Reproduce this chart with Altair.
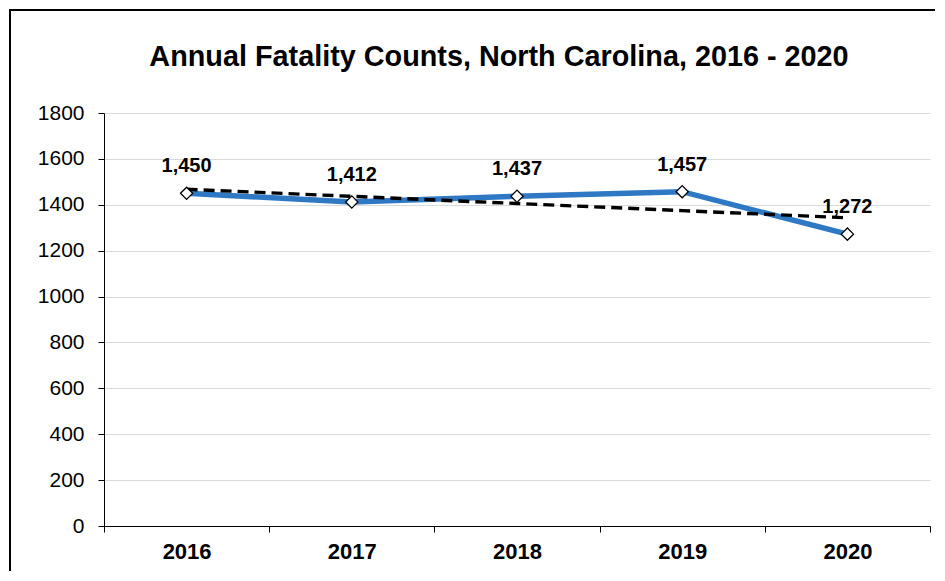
import altair as alt
import pandas as pd

years = ["2016", "2017", "2018", "2019", "2020"]
counts = [1450, 1412, 1437, 1457, 1272]
y_ticks = [0, 200, 400, 600, 800, 1000, 1200, 1400, 1600, 1800]
title_text = "Annual Fatality Counts, North Carolina, 2016 - 2020"

df = pd.DataFrame({"year": years, "count": counts})
single = pd.DataFrame({"t": [title_text]})

FONT = "Liberation Sans"
W, H = 826, 413

x_enc = alt.X(
    "year:O", sort=years, title=None,
    scale=alt.Scale(type="band", paddingInner=0, paddingOuter=0),
    axis=alt.Axis(labelAngle=0, labelFont=FONT, labelFontSize=22, labelFontWeight="bold",
                  labelColor="black", tickBand="extent", tickSize=6, tickColor="black",
                  domainColor="black", labelPadding=9, grid=False),
)
y_enc = alt.Y(
    "count:Q", title=None,
    scale=alt.Scale(domain=[0, 1800], nice=False),
    axis=alt.Axis(values=y_ticks, format="d", labelFont=FONT, labelFontSize=21, labelColor="black",
                  tickSize=6, tickColor="black", domainColor="black", labelPadding=14,
                  grid=True, gridColor="#d9d9d9", gridWidth=1),
)

base = alt.Chart(df)

line = base.mark_line(color="#2E78C4", strokeWidth=5.5).encode(x=x_enc, y=y_enc)

trend = base.transform_calculate(
    xn="toNumber(datum.year)"
).transform_joinaggregate(
    mx="mean(xn)", my="mean(count)"
).transform_calculate(
    ddx="datum.xn - datum.mx",
    dxy="(datum.xn - datum.mx) * (datum.count - datum.my)",
    dxx="(datum.xn - datum.mx) * (datum.xn - datum.mx)",
).transform_joinaggregate(
    sxy="sum(dxy)", sxx="sum(dxx)"
).transform_calculate(
    fit="datum.my + datum.sxy / datum.sxx * datum.ddx"
).mark_line(color="black", strokeDash=[11, 6], strokeWidth=3.4).encode(
    x=x_enc, y=alt.Y("fit:Q", scale=alt.Scale(domain=[0, 1800], nice=False))
)

points = base.mark_point(shape="diamond", size=150, filled=True, fill="white",
                         stroke="black", strokeWidth=1.3, opacity=1).encode(x=x_enc, y=y_enc)

labels = base.mark_text(font=FONT, fontSize=20, fontWeight="bold", baseline="alphabetic",
                        dy=-21, color="black").encode(
    x=x_enc, y=y_enc, text=alt.Text("count:Q", format=",")
)

title = alt.Chart(single).mark_text(font=FONT, fontSize=28.8, fontWeight="bold", color="black",
                                    align="center", baseline="alphabetic").encode(
    x=alt.value(W / 2 - 18), y=alt.value(-47), text="t:N"
)

frame = alt.Chart(single).mark_rect(fillOpacity=0, stroke="black", strokeWidth=2).encode(
    x=alt.value(-94), x2=alt.value(W + 40), y=alt.value(-103), y2=alt.value(H + 100)
)

chart = alt.layer(line, trend, points, labels, title, frame).properties(
    width=W, height=H,
    autosize=alt.AutoSizeParams(type="none"),
    padding={"left": 96, "top": 105, "right": 5, "bottom": 45},
).configure_view(stroke=None)

chart.save("out.html", embed_options={"renderer": "svg", "actions": False})
